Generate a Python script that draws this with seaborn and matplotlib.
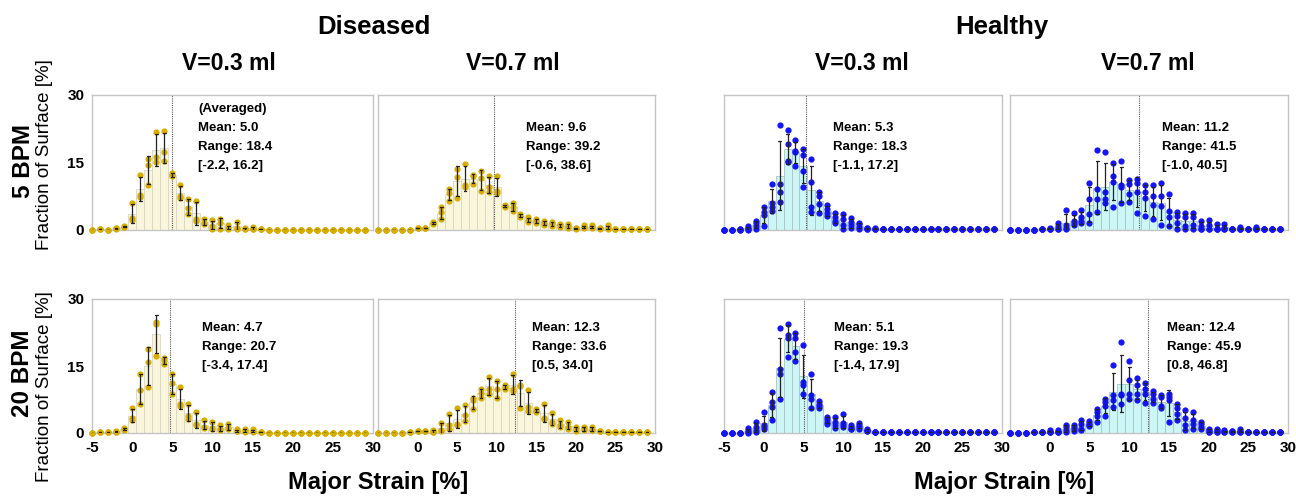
import pandas as pd
import seaborn as sns
import matplotlib.pyplot as plt

# strain bins [%]
bins = list(range(-5, 30))
tail = lambda v, n: [v] * n

# Diseased, 5 BPM, V=0.3 ml (3 hearts)
d5_03 = [
    [0.05, 0.3, 0.1, 0.4, 0.8, 6.0, 12.2, 15.8, 21.8, 21.9, 12.7, 9.9, 6.9, 6.5, 2.4, 2.2, 2.5, 1.0, 1.8, 0.5, 0.7, 0.3] + tail(0.05, 13),
    [0.05, 0.2, 0.1, 0.3, 0.6, 2.6, 7.8, 14.5, 16.2, 17.3, 12.2, 7.6, 4.8, 2.5, 1.6, 0.9, 1.6, 0.4, 0.5, 0.15, 0.3, 0.15] + tail(0.05, 13),
    [0.05, 0.3, 0.1, 0.4, 0.7, 2.2, 7.4, 9.9, 15.2, 15.4, 11.9, 7.0, 3.5, 2.0, 1.3, 0.3, 0.3, 0.3, 0.3, 0.15, 0.15, 0.15] + tail(0.05, 13),
]
# Diseased, 5 BPM, V=0.7 ml
d5_07 = [
    [0.05, 0.05, 0.1, 0.1, 0.1, 0.5, 0.5, 1.8, 5.1, 9.0, 13.6, 14.6, 12.2, 13.1, 11.9, 11.9, 5.5, 6.0, 3.5, 2.8, 2.5, 2.0, 1.8, 1.3, 1.3, 0.5, 1.0, 1.0, 0.5, 1.0, 0.3, 0.3, 0.3, 0.3, 0.3],
    [0.05, 0.05, 0.1, 0.1, 0.1, 0.4, 0.4, 1.3, 3.9, 8.2, 11.7, 10.1, 11.9, 11.5, 9.5, 8.7, 5.2, 5.2, 2.8, 2.2, 2.0, 1.5, 1.5, 1.0, 0.9, 0.4, 0.7, 0.7, 0.4, 0.5, 0.2, 0.2, 0.2, 0.2, 0.2],
    [0.05, 0.05, 0.1, 0.1, 0.1, 0.4, 0.4, 1.5, 2.4, 6.5, 7.2, 9.5, 10.2, 8.7, 8.4, 8.2, 5.4, 4.3, 3.1, 1.8, 1.6, 1.0, 0.9, 0.7, 0.5, 0.3, 0.5, 0.5, 0.3, 0.3, 0.15, 0.15, 0.15, 0.15, 0.15],
]
# Healthy, 5 BPM, V=0.3 ml (4 hearts)
h5_03 = [
    [0.05, 0.05, 0.3, 0.8, 2.0, 5.0, 10.2, 23.4, 22.2, 19.9, 17.9, 15.7, 8.4, 5.5, 3.7, 3.5, 2.6, 1.6, 0.4, 0.4, 0.3] + tail(0.15, 14),
    [0.05, 0.05, 0.2, 0.5, 1.6, 3.9, 6.0, 10.2, 19.0, 17.5, 16.6, 10.6, 7.6, 4.6, 2.8, 2.4, 1.8, 1.3, 0.3, 0.3, 0.2] + tail(0.15, 14),
    [0.05, 0.05, 0.1, 0.2, 0.8, 3.3, 5.0, 8.4, 15.4, 17.3, 13.2, 5.0, 5.7, 3.7, 2.0, 1.0, 1.0, 0.7, 0.4, 0.3, 0.2] + tail(0.15, 14),
    [0.05, 0.05, 0.1, 0.1, 0.2, 0.9, 4.3, 6.3, 15.2, 14.2, 9.5, 4.0, 3.7, 3.0, 1.6, 0.3, 0.5, 0.3, 0.3, 0.2, 0.2] + tail(0.15, 14),
]
# Healthy, 5 BPM, V=0.7 ml
h5_07 = [
    [0.05, 0.05, 0.1, 0.1, 0.2, 0.5, 1.5, 4.5, 3.7, 4.5, 10.4, 17.7, 17.3, 14.9, 15.4, 11.0, 11.3, 9.9, 9.9, 10.4, 8.0, 4.0, 3.7, 3.7, 2.0, 2.2, 1.3, 1.3, 0.3, 0.6, 0.3, 0.6, 0.3, 0.3, 0.2],
    [0.05, 0.05, 0.1, 0.1, 0.2, 0.3, 0.9, 1.0, 2.0, 2.8, 6.9, 9.1, 8.4, 12.1, 9.9, 10.2, 10.4, 8.4, 7.5, 7.6, 4.3, 3.0, 2.8, 2.8, 0.9, 1.0, 0.3, 0.5, 0.3, 0.3, 0.3, 0.3, 0.3, 0.3, 0.2],
    [0.05, 0.05, 0.1, 0.1, 0.2, 0.2, 0.3, 0.5, 1.6, 2.0, 3.5, 6.9, 6.9, 10.6, 9.5, 8.0, 8.4, 7.2, 5.5, 5.4, 2.8, 1.6, 0.9, 1.0, 0.3, 0.3, 0.3, 0.3, 0.3, 0.3, 0.3, 0.3, 0.3, 0.3, 0.2],
    [0.05, 0.05, 0.1, 0.1, 0.2, 0.2, 0.3, 0.3, 1.0, 1.6, 1.6, 3.9, 6.0, 5.2, 6.0, 6.3, 3.7, 3.1, 2.4, 1.0, 0.9, 0.3, 0.3, 0.3, 0.3, 0.3, 0.2, 0.2, 0.3, 0.2, 0.3, 0.2, 0.3, 0.3, 0.2],
]
# Diseased, 20 BPM, V=0.3 ml
d20_03 = [
    [0.05, 0.2, 0.2, 0.5, 1.1, 5.5, 13.2, 18.8, 24.8, 16.9, 13.3, 10.2, 6.4, 4.6, 2.8, 2.5, 1.7, 2.1, 0.8, 1.0, 0.8, 0.2] + tail(0.08, 13),
    [0.05, 0.2, 0.2, 0.2, 0.8, 3.4, 9.6, 15.9, 24.3, 16.3, 11.1, 6.4, 3.8, 2.1, 1.3, 1.1, 0.8, 1.1, 0.4, 0.4, 0.4, 0.2] + tail(0.08, 13),
    [0.05, 0.2, 0.2, 0.2, 0.6, 2.8, 6.6, 10.3, 17.3, 15.4, 8.8, 6.1, 3.2, 1.7, 1.1, 0.8, 0.6, 0.8, 0.4, 0.3, 0.2, 0.2] + tail(0.08, 13),
]
# Diseased, 20 BPM, V=0.7 ml
d20_07 = [
    [0.05, 0.05, 0.05, 0.1, 0.2, 0.4, 0.4, 0.6, 2.3, 4.3, 5.5, 6.2, 7.9, 9.9, 12.6, 11.6, 10.8, 13.3, 10.8, 9.6, 5.3, 6.6, 4.5, 2.8, 2.5, 1.3, 1.3, 1.3, 0.4, 0.3, 0.3, 0.2, 0.3, 0.2, 0.2],
    [0.05, 0.05, 0.05, 0.1, 0.2, 0.4, 0.4, 0.2, 0.6, 1.7, 2.1, 4.0, 7.3, 9.0, 9.9, 9.8, 10.3, 9.9, 10.5, 5.8, 4.9, 3.4, 2.5, 1.7, 1.3, 0.8, 0.8, 0.6, 0.4, 0.2, 0.2, 0.2, 0.2, 0.2, 0.2],
    [0.05, 0.05, 0.05, 0.1, 0.2, 0.4, 0.4, 0.2, 0.4, 0.8, 1.7, 2.6, 5.3, 7.9, 8.8, 7.9, 9.8, 9.3, 5.5, 4.9, 4.7, 3.1, 2.1, 1.3, 1.0, 0.4, 0.6, 0.6, 0.4, 0.2, 0.2, 0.2, 0.2, 0.2, 0.2],
]
# Healthy, 20 BPM, V=0.3 ml
h20_03 = [
    [0.05, 0.1, 0.1, 1.1, 2.5, 4.6, 9.2, 23.6, 24.3, 22.3, 19.7, 13.3, 7.1, 3.6, 3.6, 4.3, 1.7, 2.3, 1.0, 0.3, 0.3] + tail(0.15, 14),
    [0.05, 0.1, 0.1, 0.6, 1.3, 1.9, 7.0, 14.3, 21.9, 21.3, 11.4, 8.5, 6.6, 3.1, 2.5, 2.3, 1.3, 1.9, 0.6, 0.3, 0.3] + tail(0.15, 14),
    [0.05, 0.1, 0.1, 0.2, 0.6, 1.3, 5.8, 13.1, 21.2, 18.2, 10.7, 7.7, 6.1, 2.5, 1.9, 1.9, 1.0, 1.3, 0.4, 0.2, 0.2] + tail(0.15, 14),
    [0.05, 0.1, 0.1, 0.1, 0.2, 0.8, 2.8, 7.6, 17.1, 16.1, 8.8, 5.5, 5.5, 2.1, 1.1, 1.3, 0.8, 1.0, 0.4, 0.2, 0.2] + tail(0.15, 14),
]
# Healthy, 20 BPM, V=0.7 ml
h20_07 = [
    [0.05, 0.1, 0.1, 0.2, 0.3, 0.6, 0.6, 1.9, 1.9, 2.8, 2.6, 5.3, 7.7, 15.3, 20.4, 16.1, 12.3, 11.3, 9.3, 8.5, 8.8, 6.6, 5.1, 4.7, 2.5, 1.0, 1.0, 0.6, 0.4, 1.0, 0.3, 0.3, 0.2, 0.3, 0.2],
    [0.05, 0.1, 0.1, 0.2, 0.3, 0.2, 0.2, 1.3, 1.3, 2.1, 2.3, 4.7, 7.0, 8.6, 8.8, 11.8, 10.7, 9.9, 8.8, 8.1, 8.1, 5.5, 3.4, 2.8, 2.1, 0.6, 0.6, 0.4, 0.4, 0.4, 0.3, 0.3, 0.2, 0.3, 0.2],
    [0.05, 0.1, 0.1, 0.2, 0.3, 0.2, 0.2, 0.6, 0.8, 1.0, 1.7, 3.8, 6.1, 7.3, 8.5, 8.8, 8.8, 8.8, 7.7, 6.0, 7.3, 4.3, 1.7, 2.1, 1.3, 0.3, 0.3, 0.3, 0.3, 0.3, 0.3, 0.3, 0.2, 0.3, 0.2],
    [0.05, 0.1, 0.1, 0.2, 0.3, 0.2, 0.2, 0.2, 0.4, 0.6, 1.5, 2.5, 3.8, 5.8, 6.4, 7.6, 7.3, 6.8, 6.8, 5.6, 2.5, 2.8, 0.6, 1.0, 0.8, 0.3, 0.3, 0.3, 0.3, 0.3, 0.3, 0.3, 0.2, 0.3, 0.2],
]

means = [5.0, 9.6, 5.3, 11.2, 4.7, 12.3, 5.1, 12.4]
ranges = [18.4, 39.2, 18.3, 41.5, 20.7, 33.6, 19.3, 45.9]
lows = [-2.2, -0.6, -1.1, -1.0, -3.4, 0.5, -1.4, 0.8]
highs = [16.2, 38.6, 17.2, 40.5, 17.4, 34.0, 17.9, 46.8]
panels = [d5_03, d5_07, h5_03, h5_07, d20_03, d20_07, h20_03, h20_07]

sns.set_style('white')
plt.rcParams['font.family'] = ['Liberation Sans', 'DejaVu Sans']
plt.rcParams['text.color'] = 'black'
plt.rcParams['xtick.color'] = 'black'
plt.rcParams['ytick.color'] = 'black'

W, H = 1296, 497
fig = plt.figure(figsize=(W / 100, H / 100), dpi=100)

col_px = [(92, 373), (378, 655), (724, 1002), (1010, 1288)]
row_px = [(95, 230), (299, 433)]
text_x = [8.2, 13.7, 8.7, 14.1, 8.7, 14.5, 8.8, 14.8]
text_y = [[22.6, 18.4, 14.2], [23.4, 19.2, 14.9]]


def long_frame(samples):
    rows = []
    for k, s in enumerate(samples):
        for b, v in zip(bins, s):
            rows.append((b, v, k))
    return pd.DataFrame(rows, columns=['strain', 'frac', 'heart'])


for i, samples in enumerate(panels):
    r, c = divmod(i, 4)
    x0, x1 = col_px[c]
    y0, y1 = row_px[r]
    ax = fig.add_axes([x0 / W, 1 - y1 / H, (x1 - x0) / W, (y1 - y0) / H])
    healthy = c >= 2
    bar_c = '#cdf7f7' if healthy else '#faf6dc'
    edge_c = '#a9c4c4' if healthy else '#d9d6c4'
    dot_c = '#1414ff' if healthy else '#d6ad00'

    df = long_frame(samples)
    sns.barplot(data=df, x='strain', y='frac', native_scale=True, errorbar='sd',
                color=bar_c, saturation=1, width=1, edgecolor=edge_c, linewidth=0.6,
                capsize=0.35, err_kws={'color': '#222222', 'linewidth': 0.9, 'zorder': 4},
                ax=ax)
    sns.stripplot(data=df, x='strain', y='frac', native_scale=True, jitter=False,
                  color=dot_c, size=4.5, linewidth=0, zorder=3, clip_on=False, ax=ax)
    ax.axvline(means[i], color='#555555', linestyle=(0, (1, 1)), linewidth=0.8, zorder=2)

    ax.set_xlim(-5, 30)
    ax.set_ylim(0, 30)
    ax.set_xticks(range(-5, 31, 5))
    ax.set_yticks(range(0, 31, 5))
    if r == 1:
        ax.set_xticklabels([('' if (v == -5 and c in (1, 3)) else str(v)) for v in range(-5, 31, 5)])
    else:
        ax.set_xticklabels([])
    if c == 0:
        ax.set_yticklabels([str(v) if v % 15 == 0 else '' for v in range(0, 31, 5)])
    else:
        ax.set_yticklabels([])
    ax.set_xlabel('')
    ax.set_ylabel('')
    ax.tick_params(axis='both', direction='out', length=2.5, width=0.8, color='#aaaaaa',
                   labelcolor='black', labelsize=11, pad=3)
    for lab in ax.get_xticklabels() + ax.get_yticklabels():
        lab.set_fontweight('bold')
    for sp in ax.spines.values():
        sp.set_color('#c4c4c4')
        sp.set_linewidth(1.0)

    lines = [f'Mean: {means[i]:.1f}', f'Range: {ranges[i]:.1f}', f'[{lows[i]:.1f}, {highs[i]:.1f}]']
    ys = text_y[r]
    if i == 0:
        lines = ['(Averaged)'] + lines
        ys = [26.8] + ys
    for t, yy in zip(lines, ys):
        ax.text(text_x[i], yy, t, fontsize=9.5, fontweight='bold', ha='left', va='center',
                color='black')


def ftext(x, y, s, **kw):
    fig.text(x / W, 1 - y / H, s, ha='center', va='center', color='black', **kw)


ftext(374, 27, 'Diseased', fontsize=18.5, fontweight='bold')
ftext(1002, 27, 'Healthy', fontsize=18.5, fontweight='bold')
for xc, s in zip([229, 513, 862, 1148], ['V=0.3 ml', 'V=0.7 ml', 'V=0.3 ml', 'V=0.7 ml']):
    ftext(xc, 63, s, fontsize=16.5, fontweight='bold')
ftext(23, 161, '5 BPM', fontsize=17.5, fontweight='bold', rotation=90)
ftext(23, 373, '20 BPM', fontsize=17.5, fontweight='bold', rotation=90)
ftext(45, 155, 'Fraction of Surface [%]', fontsize=13.5, rotation=90)
ftext(45, 387, 'Fraction of Surface [%]', fontsize=13.5, rotation=90)
ftext(378, 483, 'Major Strain [%]', fontsize=17, fontweight='bold')
ftext(1004, 483, 'Major Strain [%]', fontsize=17, fontweight='bold')

fig.savefig('out.png', dpi=100)
